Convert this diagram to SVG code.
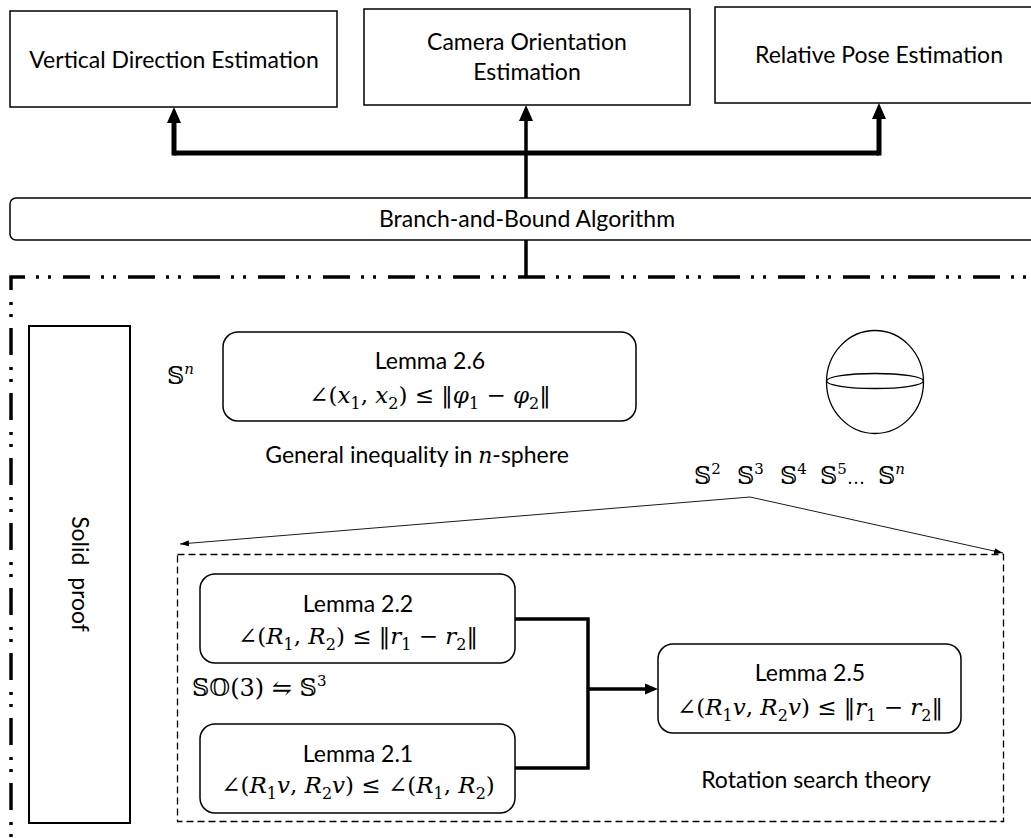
<svg xmlns="http://www.w3.org/2000/svg" width="1031" height="838" viewBox="0 0 1031 838">
  <style>
    .box { fill: #fff; stroke: #000; stroke-width: 1.5; }
    .txt { font-family: Lato, "Open Sans", sans-serif; font-size: 23px; fill: #000; text-anchor: middle; }
    .math { font-family: "DejaVu Serif", "Liberation Serif", serif; font-size: 23px; fill: #000; text-anchor: middle; }
    .math .s { font-size: 16px; }
    .ds { font-family: "DejaVu Serif", "DejaVu Sans", serif; font-size: 24px; fill: #000; }
    .sup { font-family: "DejaVu Serif", serif; font-size: 15px; }
    .i { font-style: italic; }
    .thick { fill: none; stroke: #000; stroke-width: 5; }
    .mid { fill: none; stroke: #000; stroke-width: 3.5; }
    .thin { fill: none; stroke: #000; stroke-width: 0.9; }
  </style>
  <defs>
    <marker id="head" viewBox="0 -8 16 16" refX="0" refY="0" markerWidth="16" markerHeight="16" markerUnits="userSpaceOnUse" orient="auto">
      <path d="M0,-7 L16,0 L0,7 z" fill="#000"/>
    </marker>
    <marker id="headS" viewBox="0 -6 13 12" refX="0" refY="0" markerWidth="13" markerHeight="12" markerUnits="userSpaceOnUse" orient="auto">
      <path d="M0,-5.5 L13,0 L0,5.5 z" fill="#000"/>
    </marker>
    <marker id="tiny" viewBox="0 -4 9 8" refX="9" refY="0" markerWidth="9" markerHeight="8" markerUnits="userSpaceOnUse" orient="auto">
      <path d="M0,-3 L9,0 L0,3 z" fill="#000"/>
    </marker>
  </defs>

  <!-- applications -->
  <g id="vertical-direction">
    <rect class="box" x="10" y="11" width="327" height="96"/>
    <text class="txt" x="174" y="68">Vertical Direction Estimation</text>
  </g>
  <g id="camera-orientation">
    <rect class="box" x="364" y="9" width="326" height="96"/>
    <text class="txt" x="527" y="50">Camera Orientation</text>
    <text class="txt" x="527" y="80">Estimation</text>
  </g>
  <g id="relative-pose">
    <rect class="box" x="715" y="7" width="330" height="96"/>
    <text class="txt" x="879" y="63">Relative Pose Estimation</text>
  </g>
  <g id="branch-and-bound">
    <rect class="box" x="10" y="198" width="1035" height="42" rx="6"/>
    <text class="txt" x="527" y="227">Branch-and-Bound Algorithm</text>
  </g>

  <!-- theory frame -->
  <g id="theory-frame">
    <path d="M11,840 V277 H1040" fill="none" stroke="#000" stroke-width="3.5" stroke-dasharray="27 11 3 9 3 12" stroke-dashoffset="35"/>
  </g>

  <g id="solid-proof">
    <rect x="29" y="326" width="101" height="497" fill="#fff" stroke="#000" stroke-width="2"/>
    <text class="txt" transform="translate(80,574) rotate(90)" x="0" y="8">Solid&#160; proof</text>
  </g>

  <g id="sn-label">
    <text class="ds" x="167" y="384">𝕊<tspan class="i sup" dy="-10">n</tspan></text>
  </g>

  <g id="lemma-2-6">
    <rect class="box" x="223" y="332" width="413" height="89" rx="15"/>
    <text class="txt" x="430" y="369">Lemma 2.6</text>
    <text class="math" x="430" y="403">∠(<tspan class="i">x</tspan><tspan class="s" dy="6">1</tspan><tspan dy="-6">, </tspan><tspan class="i">x</tspan><tspan class="s" dy="6">2</tspan><tspan dy="-6">) ≤ ‖</tspan><tspan class="i">φ</tspan><tspan class="s" dy="6">1</tspan><tspan dy="-6"> − </tspan><tspan class="i">φ</tspan><tspan class="s" dy="6">2</tspan><tspan dy="-6">‖</tspan></text>
    <text class="txt" x="417" y="463">General inequality in <tspan class="i" font-family="DejaVu Serif" font-size="22">n</tspan>-sphere</text>
  </g>

  <g id="sphere">
    <ellipse cx="875" cy="382" rx="48.5" ry="51.5" fill="none" stroke="#000" stroke-width="1.3"/>
    <ellipse cx="875" cy="381" rx="48.5" ry="7.5" fill="none" stroke="#000" stroke-width="1.3"/>
  </g>

  <g id="sphere-dims">
    <text class="ds" x="694" y="484">𝕊<tspan class="sup" dy="-10">2</tspan></text>
    <text class="ds" x="737" y="484">𝕊<tspan class="sup" dy="-10">3</tspan></text>
    <text class="ds" x="780" y="484">𝕊<tspan class="sup" dy="-10">4</tspan></text>
    <text class="ds" x="820" y="484">𝕊<tspan class="sup" dy="-10">5</tspan><tspan font-size="18" dy="10">…</tspan></text>
    <text class="ds" x="878" y="484">𝕊<tspan class="i sup" dy="-10">n</tspan></text>
  </g>

  <!-- rotation search region -->
  <g id="rotation-region">
    <rect x="177.5" y="554.5" width="826" height="267" fill="none" stroke="#000" stroke-width="1.3" stroke-dasharray="7 4"/>
    <text class="txt" x="816" y="788">Rotation search theory</text>
  </g>

  <g id="lemma-2-2">
    <rect class="box" x="200" y="574" width="315" height="89" rx="15"/>
    <text class="txt" x="358" y="612">Lemma 2.2</text>
    <text class="math" x="358" y="644">∠(<tspan class="i">R</tspan><tspan class="s" dy="6">1</tspan><tspan dy="-6">, </tspan><tspan class="i">R</tspan><tspan class="s" dy="6">2</tspan><tspan dy="-6">) ≤ ‖</tspan><tspan class="i">r</tspan><tspan class="s" dy="6">1</tspan><tspan dy="-6"> − </tspan><tspan class="i">r</tspan><tspan class="s" dy="6">2</tspan><tspan dy="-6">‖</tspan></text>
  </g>

  <g id="so3-label">
    <text class="ds" x="192" y="696">𝕊𝕆(3) ⇋ 𝕊<tspan class="sup" dy="-10">3</tspan></text>
  </g>

  <g id="lemma-2-1">
    <rect class="box" x="200" y="724" width="315" height="89" rx="15"/>
    <text class="txt" x="358" y="762">Lemma 2.1</text>
    <text class="math" x="358" y="793">∠(<tspan class="i">R</tspan><tspan class="s" dy="6">1</tspan><tspan class="i" dy="-6">v</tspan>, <tspan class="i">R</tspan><tspan class="s" dy="6">2</tspan><tspan class="i" dy="-6">v</tspan>) ≤ ∠(<tspan class="i">R</tspan><tspan class="s" dy="6">1</tspan><tspan dy="-6">, </tspan><tspan class="i">R</tspan><tspan class="s" dy="6">2</tspan><tspan dy="-6">)</tspan></text>
  </g>

  <g id="lemma-2-5">
    <rect class="box" x="658" y="644" width="303" height="89" rx="15"/>
    <text class="txt" x="810" y="681">Lemma 2.5</text>
    <text class="math" x="810" y="715">∠(<tspan class="i">R</tspan><tspan class="s" dy="6">1</tspan><tspan class="i" dy="-6">v</tspan>, <tspan class="i">R</tspan><tspan class="s" dy="6">2</tspan><tspan class="i" dy="-6">v</tspan>) ≤ ‖<tspan class="i">r</tspan><tspan class="s" dy="6">1</tspan><tspan dy="-6"> − </tspan><tspan class="i">r</tspan><tspan class="s" dy="6">2</tspan><tspan dy="-6">‖</tspan></text>
  </g>

  <!-- connectors -->
  <g id="connectors">
    <path class="thick" d="M174,153 H879"/>
    <path class="thick" d="M174,155.5 V123" marker-end="url(#head)"/>
    <path class="thick" d="M879,155.5 V119" marker-end="url(#head)"/>
    <path class="mid" d="M526,198 V121" marker-end="url(#head)"/>
    <path class="mid" d="M526,240 V277"/>
    <path class="thin" d="M750,497 L180,544" marker-end="url(#tiny)"/>
    <path class="thin" d="M750,497 L1003,553" marker-end="url(#tiny)"/>
    <path class="mid" d="M515,619 H588 V768 H515"/>
    <path class="mid" d="M588,689 H645" marker-end="url(#headS)"/>
  </g>
</svg>
